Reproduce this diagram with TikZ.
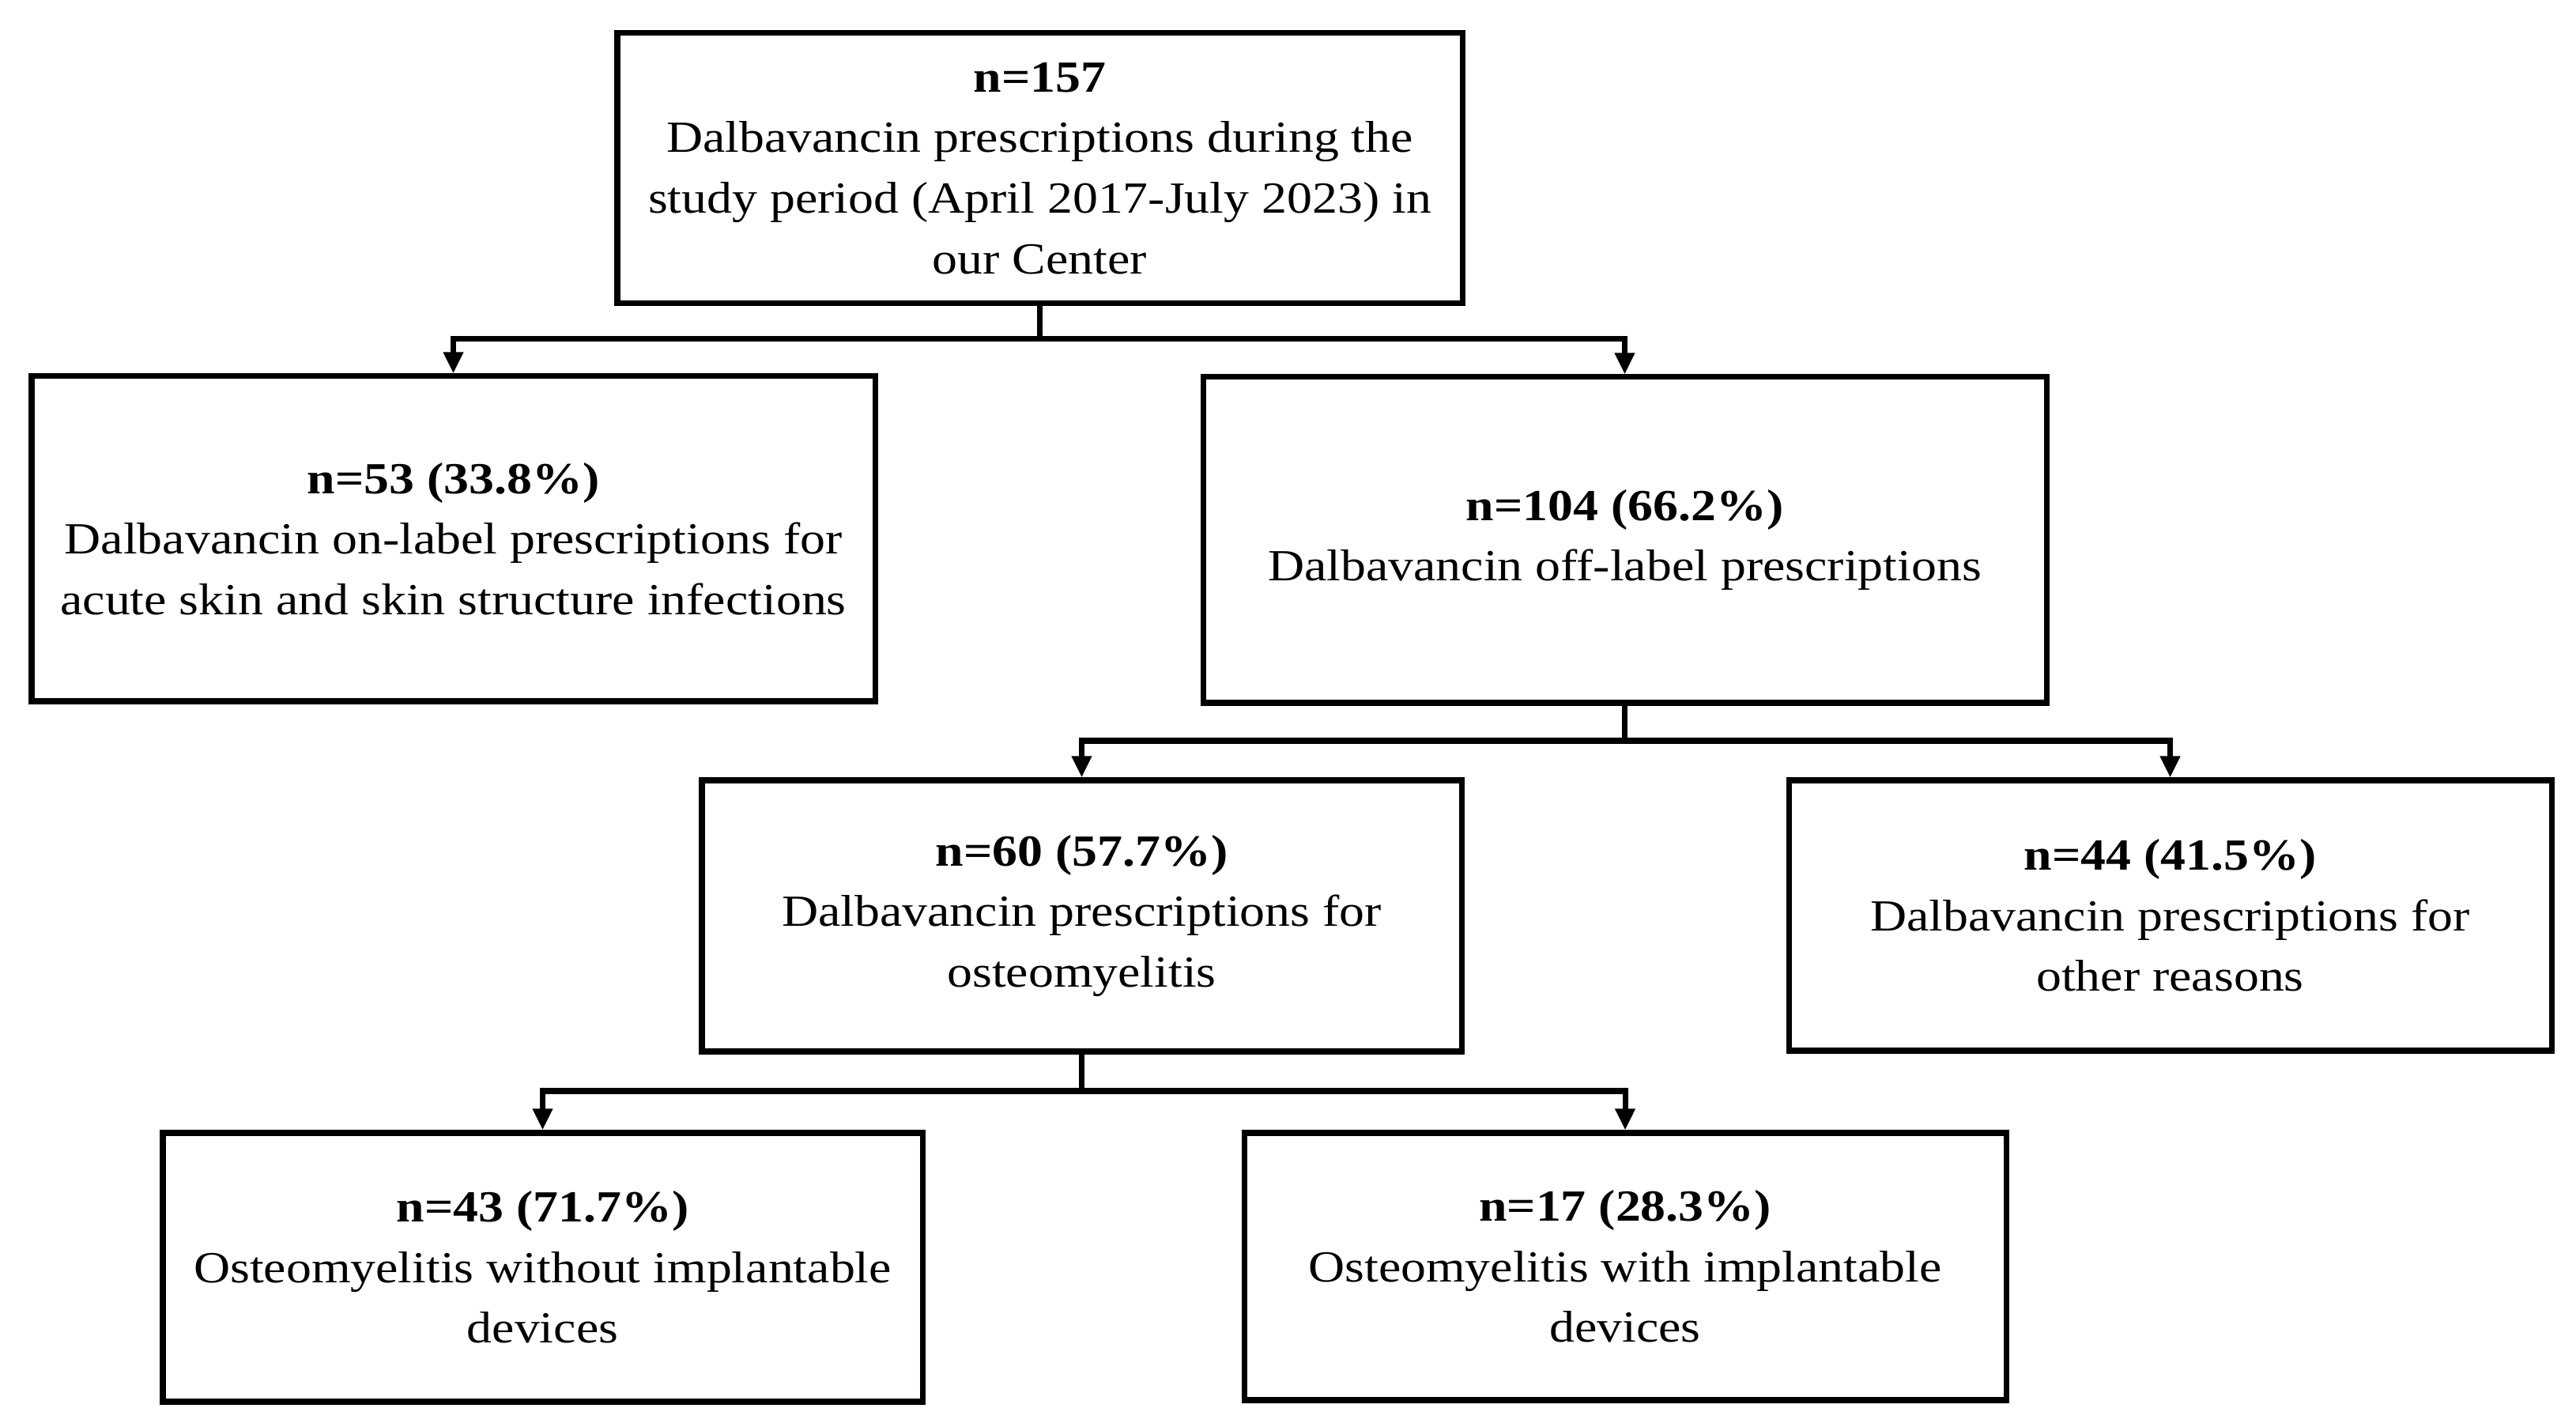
\documentclass[tikz,border=0pt]{standalone}
\usepackage{fontspec}
\setmainfont{Liberation Serif}[FakeStretch=1.135]
\usetikzlibrary{arrows.meta}
\begin{document}
\begin{tikzpicture}[
  box/.style={draw=black, line width=2pt, fill=white, inner sep=0pt, align=center,
    font=\fontsize{16pt}{21.8pt}\selectfont},
  arr/.style={line width=2pt, -{Triangle[length=0.27cm, width=0.24cm]}},
  conn/.style={line width=2pt}
]
\useasboundingbox (0,0) rectangle (32.59,18.04);
\node[box, minimum width=10.69cm, minimum height=3.42cm] (top) at (13.155,15.91)
  {\textbf{n=157}\\Dalbavancin prescriptions during the\\study period (April 2017-July 2023) in\\our Center};
\node[box, minimum width=10.67cm, minimum height=4.11cm] (left) at (5.735,11.225)
  {\textbf{n=53 (33.8\%)}\\Dalbavancin on-label prescriptions for\\acute skin and skin structure infections};
\node[box, minimum width=10.67cm, minimum height=4.12cm] (right) at (20.555,11.21)
  {\textbf{n=104 (66.2\%)}\\Dalbavancin off-label prescriptions};
\node[box, minimum width=9.61cm, minimum height=3.43cm] (midL) at (13.685,6.455)
  {\textbf{n=60 (57.7\%)}\\Dalbavancin prescriptions for\\osteomyelitis};
\node[box, minimum width=9.65cm, minimum height=3.42cm] (midR) at (27.455,6.46)
  {\textbf{n=44 (41.5\%)}\\Dalbavancin prescriptions for\\other reasons};
\node[box, minimum width=9.61cm, minimum height=3.40cm] (botL) at (6.865,2.01)
  {\textbf{n=43 (71.7\%)}\\Osteomyelitis without implantable\\devices};
\node[box, minimum width=9.64cm, minimum height=3.38cm] (botR) at (20.56,2.02)
  {\textbf{n=17 (28.3\%)}\\Osteomyelitis with implantable\\devices};

\coordinate (j1) at (top.south |- 0,13.75);
\coordinate (j2) at (right.south |- 0,8.67);
\coordinate (j3) at (midL.south |- 0,4.24);

\draw[conn] (top.south) -- (j1);
\draw[arr] (j1) -| (left.north);
\draw[arr] (j1) -| (right.north);
\draw[conn] (right.south) -- (j2);
\draw[arr] (j2) -| (midL.north);
\draw[arr] (j2) -| (midR.north);
\draw[conn] (midL.south) -- (j3);
\draw[arr] (j3) -| (botL.north);
\draw[arr] (j3) -| (botR.north);
\end{tikzpicture}
\end{document}
